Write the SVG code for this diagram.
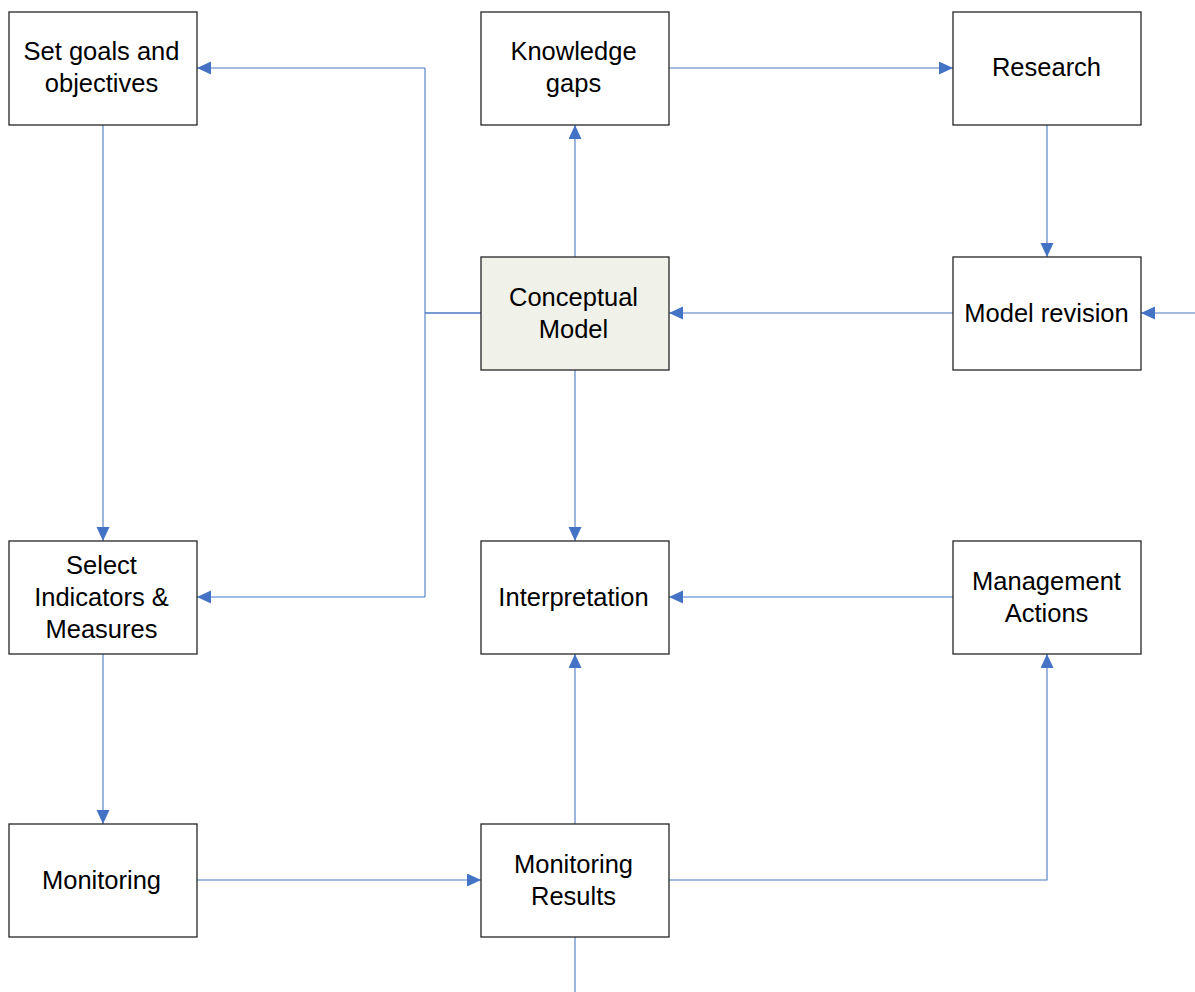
<svg xmlns="http://www.w3.org/2000/svg" width="1195" height="992" viewBox="0 0 1195 992">
<style>
.box{fill:#ffffff;stroke:#262626;stroke-width:1.3}
.cm{fill:#f0f1e9}
.t{font-family:"Liberation Sans",Arial,sans-serif;font-size:25.5px;fill:#000;text-anchor:middle}
.c{fill:none;stroke:#4a78c4;stroke-width:1.1}
</style>
<defs>
<marker id="ah" markerUnits="userSpaceOnUse" markerWidth="15" markerHeight="14" refX="14" refY="6.5" orient="auto">
<path d="M0,0 L14,6.5 L0,13 z" fill="#4472c4"/>
</marker>
</defs>
<rect width="1195" height="992" fill="#ffffff"/>
<g id="connectors">
<path class="c" d="M425,68 V597"/>
<path class="c" style="stroke-width:1.6" d="M425,313 H481"/>
<path class="c" d="M425,68 H197" marker-end="url(#ah)"/>
<path class="c" d="M425,597 H197" marker-end="url(#ah)"/>
<path class="c" d="M103,125 V541" marker-end="url(#ah)"/>
<path class="c" d="M103,654 V824" marker-end="url(#ah)"/>
<path class="c" d="M197,880 H481" marker-end="url(#ah)"/>
<path class="c" d="M575,824 V654" marker-end="url(#ah)"/>
<path class="c" d="M669,880 H1047 V654" marker-end="url(#ah)"/>
<path class="c" d="M575,937 V992"/>
<path class="c" d="M953,597 H669" marker-end="url(#ah)"/>
<path class="c" d="M575,370 V541" marker-end="url(#ah)"/>
<path class="c" d="M575,257 V125" marker-end="url(#ah)"/>
<path class="c" d="M669,68 H953" marker-end="url(#ah)"/>
<path class="c" d="M1047,125 V257" marker-end="url(#ah)"/>
<path class="c" d="M953,313 H669" marker-end="url(#ah)"/>
<path class="c" d="M1195,313 H1141" marker-end="url(#ah)"/>
</g>
<g id="set-goals">
<rect class="box" x="9" y="12" width="188" height="113"/>
<text class="t" x="101.5" y="60">Set goals and</text>
<text class="t" x="101.5" y="92">objectives</text>
</g>
<g id="knowledge-gaps">
<rect class="box" x="481" y="12" width="188" height="113"/>
<text class="t" x="573.5" y="60">Knowledge</text>
<text class="t" x="573.5" y="92">gaps</text>
</g>
<g id="research">
<rect class="box" x="953" y="12" width="188" height="113"/>
<text class="t" x="1046.5" y="76">Research</text>
</g>
<g id="conceptual-model">
<rect class="box cm" x="481" y="257" width="188" height="113"/>
<text class="t" x="573.5" y="306">Conceptual</text>
<text class="t" x="573.5" y="338">Model</text>
</g>
<g id="model-revision">
<rect class="box" x="953" y="257" width="188" height="113"/>
<text class="t" x="1046.5" y="322">Model revision</text>
</g>
<g id="select-indicators">
<rect class="box" x="9" y="541" width="188" height="113"/>
<text class="t" x="101.5" y="574">Select</text>
<text class="t" x="101.5" y="606">Indicators &amp;</text>
<text class="t" x="101.5" y="638">Measures</text>
</g>
<g id="interpretation">
<rect class="box" x="481" y="541" width="188" height="113"/>
<text class="t" x="573.5" y="606">Interpretation</text>
</g>
<g id="management-actions">
<rect class="box" x="953" y="541" width="188" height="113"/>
<text class="t" x="1046.5" y="590">Management</text>
<text class="t" x="1046.5" y="622">Actions</text>
</g>
<g id="monitoring">
<rect class="box" x="9" y="824" width="188" height="113"/>
<text class="t" x="101.5" y="889">Monitoring</text>
</g>
<g id="monitoring-results">
<rect class="box" x="481" y="824" width="188" height="113"/>
<text class="t" x="573.5" y="873">Monitoring</text>
<text class="t" x="573.5" y="905">Results</text>
</g>
</svg>
